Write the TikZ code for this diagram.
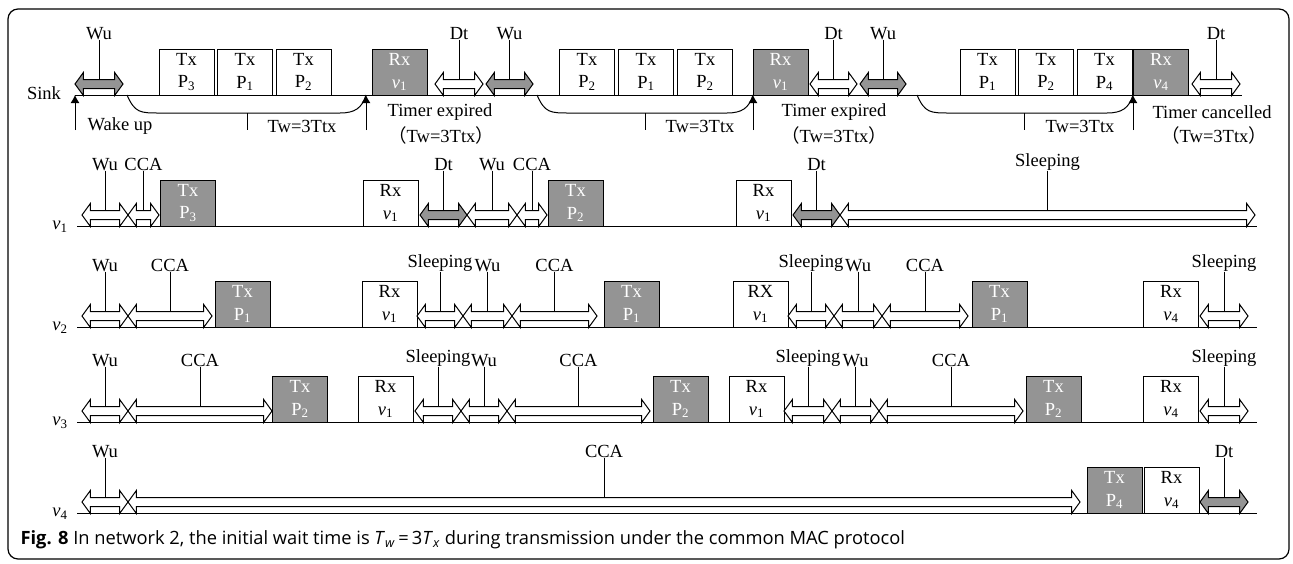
\documentclass[tikz,border=0pt]{standalone}
\usepackage{fontspec}
\setmainfont{Liberation Serif}
\newfontfamily\cjk{Noto Sans CJK SC}
\newfontfamily\capfont{Open Sans}
\usetikzlibrary{positioning,shapes.arrows,arrows.meta}

\tikzset{
  pkt/.style={draw,line width=1pt,minimum width=55pt,minimum height=46pt,inner sep=0pt,align=center},
  pktg/.style={pkt,fill=black!42,text=white},
  dbl/.style={double arrow,draw,line width=1pt,fill=white,inner sep=0pt,outer sep=0pt,
    text height=4pt,text depth=4pt,double arrow head extend=7pt,double arrow tip angle=108,minimum height=#1},
  dblg/.style={dbl=#1,fill=black!42},
  lbl/.style={inner sep=0pt},
  tl/.style={line width=1pt},
  upar/.style={line width=1pt,-{Latex[length=8pt,width=9pt]}},
}

\begin{document}
\begin{tikzpicture}[x=1pt,y=-1pt,font=\fontsize{18.5}{22.5}\selectfont]
\useasboundingbox (0,0) rectangle (1293,563);
\draw[line width=1.2pt,rounded corners=10pt] (8,9) rectangle (1289,559);

% sink
\node (sink) at (44,93) {Sink};
\draw[tl] (75,95) -- (1242,95);
\node[dblg=48] (sw1) at (99,84) {};
\node[pkt] (s1) at (186.5,72) {Tx\\P\textsubscript{3}};
\node[pkt,right=2.5pt of s1] (s2) {Tx\\P\textsubscript{1}};
\node[pkt,right=2.5pt of s2] (s3) {Tx\\P\textsubscript{2}};
\node[pktg] (s4) at (399.5,72) {Rx\\\textit{v}\textsubscript{1}};
\node[dbl=48] (sd1) at (459,84) {};
\node[dblg=47,right=3pt of sd1] (sw2) {};
\node[pkt] (s5) at (587,72) {Tx\\P\textsubscript{2}};
\node[pkt,right=3pt of s5] (s6) {Tx\\P\textsubscript{1}};
\node[pkt,right=3pt of s6] (s7) {Tx\\P\textsubscript{2}};
\node[pktg] (s8) at (780.5,72) {Rx\\\textit{v}\textsubscript{1}};
\node[dbl=47] (sd2) at (833.5,84) {};
\node[dblg=46,right=3pt of sd2] (sw3) {};
\node[pkt] (s9) at (987.5,72) {Tx\\P\textsubscript{1}};
\node[pkt,right=2.5pt of s9] (s10) {Tx\\P\textsubscript{2}};
\node[pkt,right=2.5pt of s10] (s11) {Tx\\P\textsubscript{4}};
\node[pktg] (s12) at (1161,72) {Rx\\\textit{v}\textsubscript{4}};
\node[dbl=48] (sd3) at (1216,84) {};

% timer
\draw[upar] (75,130) -- (75,95);
\draw[upar] (366,130) -- (366,95);
\draw[upar] (753,130) -- (753,95);
\draw[upar] (1133,130) -- (1133,95);
\draw[tl] (127,95) .. controls (135,113) and (140,113) .. (160,113) -- (340,113) .. controls (355,113) and (362,108) .. (366,95);
\draw[tl] (537,95) .. controls (545,113) and (550,113) .. (570,113) -- (727,113) .. controls (742,113) and (749,108) .. (753,95);
\draw[tl] (917,95) .. controls (925,113) and (930,113) .. (950,113) -- (1107,113) .. controls (1122,113) and (1129,108) .. (1133,95);
\draw[tl] (247,113) -- (247,130);
\draw[tl] (645,113) -- (645,130);
\draw[tl] (1024,113) -- (1024,130);
\node (wake) at (120,126) {Wake up};
\node (tw1) at (302,126) {Tw=3Ttx};
\node (tw2) at (700,126) {Tw=3Ttx};
\node (tw3) at (1080,126) {Tw=3Ttx};
\node (te1) at (440,112) {Timer expired};
\node (tp1) at (441,135) {{\cjk （}Tw=3Ttx{\cjk ）}};
\node (te2) at (834,112) {Timer expired};
\node (tp2) at (834,135) {{\cjk （}Tw=3Ttx{\cjk ）}};
\node (te3) at (1212,112) {Timer cancelled};
\node (tp3) at (1214,135) {{\cjk （}Tw=3Ttx{\cjk ）}};

% v1
\node (v1) at (60,227) {\textit{v}\textsubscript{1}};
\draw[tl] (77,226) -- (1257,226);
\node[dbl=46] (a1) at (105,215) {};
\node[dbl=31,right=0pt of a1] (a2) {};
\node[pktg] (a3) at (188,203) {Tx\\P\textsubscript{3}};
\node[pkt] (a4) at (390.5,203) {Rx\\\textit{v}\textsubscript{1}};
\node[dblg=47] (a5) at (443.5,215) {};
\node[dbl=50,right=0pt of a5] (a6) {};
\node[dbl=30,right=0pt of a6] (a7) {};
\node[pktg] (a8) at (575.5,203) {Tx\\P\textsubscript{2}};
\node[pkt] (a9) at (763.5,203) {Rx\\\textit{v}\textsubscript{1}};
\node[dblg=47] (a10) at (816.5,215) {};
\node[dbl=415,right=0pt of a10] (a11) {};

% v2
\node (v2) at (60,328) {\textit{v}\textsubscript{2}};
\draw[tl] (77,327) -- (1257,327);
\node[dbl=46] (b1) at (105,316) {};
\node[dbl=84,right=0pt of b1] (b2) {};
\node[pktg] (bt1) at (242.5,304) {Tx\\P\textsubscript{1}};
\node[pkt] (br1) at (389.5,304) {Rx\\\textit{v}\textsubscript{1}};
\node[dbl=46] (b3) at (440,316) {};
\node[dbl=49,right=0pt of b3] (b4) {};
\node[dbl=85,right=0pt of b4] (b5) {};
\node[pktg] (bt2) at (631.5,304) {Tx\\P\textsubscript{1}};
\node[pkt] (br2) at (760.5,304) {RX\\\textit{v}\textsubscript{1}};
\node[dbl=46] (b6) at (811,316) {};
\node[dbl=48,right=0pt of b6] (b7) {};
\node[dbl=86,right=0pt of b7] (b8) {};
\node[pktg] (bt3) at (999.5,304) {Tx\\P\textsubscript{1}};
\node[pkt] (br3) at (1171,304) {Rx\\\textit{v}\textsubscript{4}};
\node[dbl=48] (b9) at (1224,316) {};

% v3
\node (v3) at (60,423) {\textit{v}\textsubscript{3}};
\draw[tl] (77,422) -- (1257,422);
\node[dbl=46] (c1) at (105,411) {};
\node[dbl=144,right=0pt of c1] (c2) {};
\node[pktg] (ct1) at (300,399) {Tx\\P\textsubscript{2}};
\node[pkt] (cr1) at (385.5,399) {Rx\\\textit{v}\textsubscript{1}};
\node[dbl=46] (c3) at (438,411) {};
\node[dbl=46,right=0pt of c3] (c4) {};
\node[dbl=143,right=0pt of c4] (c5) {};
\node[pktg] (ct2) at (680.5,399) {Tx\\P\textsubscript{2}};
\node[pkt] (cr2) at (756.5,399) {Rx\\\textit{v}\textsubscript{1}};
\node[dbl=48] (c6) at (808,411) {};
\node[dbl=47,right=0pt of c6] (c7) {};
\node[dbl=144,right=0pt of c7] (c8) {};
\node[pktg] (ct3) at (1053.5,399) {Tx\\P\textsubscript{2}};
\node[pkt] (cr3) at (1171,399) {Rx\\\textit{v}\textsubscript{4}};
\node[dbl=48] (c9) at (1224,411) {};

% v4
\node (v4) at (60,514) {\textit{v}\textsubscript{4}};
\draw[tl] (77,513) -- (1257,513);
\node[dbl=46] (d1) at (105,502) {};
\node[dbl=952,right=0pt of d1] (d2) {};
\node[pktg] (dt1) at (1114.5,490) {Tx\\P\textsubscript{4}};
\node[pkt,right=1pt of dt1] (dr1) {Rx\\\textit{v}\textsubscript{4}};
\node[dblg=48] (d3) at (1224,502) {};

% leaders
\foreach \n/\t in {sw1/Wu,sd1/Dt,sw2/Wu,sd2/Dt,sw3/Wu,sd3/Dt,
    a1/Wu,a2/CCA,a5/Dt,a6/Wu,a7/CCA,a10/Dt,a11/Sleeping,
    b1/Wu,b2/CCA,b3/Sleeping,b4/Wu,b5/CCA,b6/Sleeping,b7/Wu,b8/CCA,b9/Sleeping,
    c1/Wu,c2/CCA,c3/Sleeping,c4/Wu,c5/CCA,c6/Sleeping,c7/Wu,c8/CCA,c9/Sleeping,
    d1/Wu,d2/CCA,d3/Dt}
  {\node[lbl,above=40pt of \n] (l\n) {\t};
   \draw[line width=0.9pt] (l\n) -- (\n);}

\node[anchor=west,font=\capfont\fontsize{18.3}{21}\selectfont] (cap) at (17,540)
  {\textbf{Fig. 8} In network 2, the initial wait time is \textit{T}\textsubscript{\textit{w}}\,=\,3\textit{T}\textsubscript{\textit{x}} during transmission under the common MAC protocol};
\end{tikzpicture}
\end{document}
